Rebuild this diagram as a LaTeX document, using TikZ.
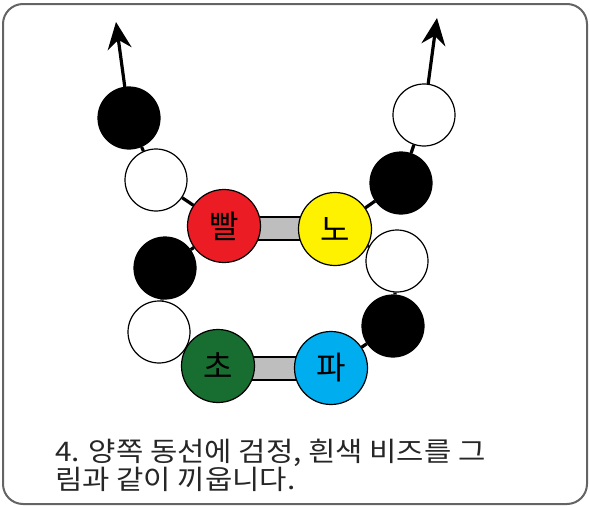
\documentclass[tikz,border=0pt]{standalone}
\usepackage{fontspec}
\newfontfamily\kr{Noto Sans CJK KR}
\newfontfamily\krwide[FakeStretch=1.1]{Noto Sans CJK KR}
\usetikzlibrary{arrows.meta,backgrounds,calc}
\definecolor{barGray}{RGB}{190,190,190}
\definecolor{frameGray}{RGB}{100,100,100}
\definecolor{beadRed}{RGB}{236,28,36}
\definecolor{beadYellow}{RGB}{255,242,0}
\definecolor{beadGreen}{RGB}{24,110,48}
\definecolor{beadBlue}{RGB}{0,174,239}
\begin{document}
\begin{tikzpicture}[x=1pt,y=-1pt,
  bead/.style={circle,draw=black,line width=1.2pt,minimum size=62pt,inner sep=0pt},
  big/.style={bead,minimum size=73pt,font=\kr\fontsize{32}{32}\selectfont},
  blk/.style={bead,fill=black},
  wht/.style={bead,fill=white},
  string/.style={line width=3.2pt,black},
  bar/.style={fill=barGray,draw=black,line width=1.2pt},
  caption/.style={anchor=base west,inner sep=0pt,font=\krwide\fontsize{27}{27}\selectfont,text=black!85}]
\useasboundingbox (0,0) rectangle (590,506);
\draw[frameGray,line width=2pt,rounded corners=20pt] (3,4) rectangle (587,504);
% beads
\node[blk] (b1) at (129,118) {};
\node[wht] (w1) at (156,180) {};
\node[big,fill=beadRed] (red) at (224,226) {빨};
\node[blk] (b2) at (165,268) {};
\node[wht] (w3) at (159,332) {};
\node[big,fill=beadGreen] (grn) at (218,366) {초};
\node[big,fill=beadYellow] (yel) at (335,229) {노};
\node[wht] (wr1) at (424,115) {};
\node[blk] (br1) at (401,183) {};
\node[wht] (wr2) at (397,261) {};
\node[blk] (br2) at (393,326) {};
\node[big,fill=beadBlue] (blu) at (331,368) {파};
\coordinate (tipL) at (116,22);
\coordinate (tipR) at (437,18);
\begin{scope}[on background layer]
  \draw[string] (red) -- (w1) -- (b1);
  \draw[string,-{Stealth[length=27pt,width=24pt,inset=9pt]}] (b1.center) -- (tipL);
  \draw[string] (red) -- (b2) -- (w3) -- (grn);
  \draw[string] (yel) -- (br1) -- (wr1);
  \draw[string,-{Stealth[length=27pt,width=24pt,inset=9pt]}] (wr1.center) -- (tipR);
  \draw[string] (yel) -- (wr2) -- (br2) -- (blu);
  \draw[bar] ($(red.center)+(0,-9)$) rectangle ($(yel.center)+(0,11)$);
  \draw[bar] ($(grn.center)+(0,-9)$) rectangle ($(blu.center)+(0,12)$);
\end{scope}
\node[caption] (t1) at (55,461) {4. 양쪽 동선에 검정, 흰색 비즈를 그};
\node[caption] (t2) at (55,489) {림과 같이 끼웁니다.};
\end{tikzpicture}
\end{document}
